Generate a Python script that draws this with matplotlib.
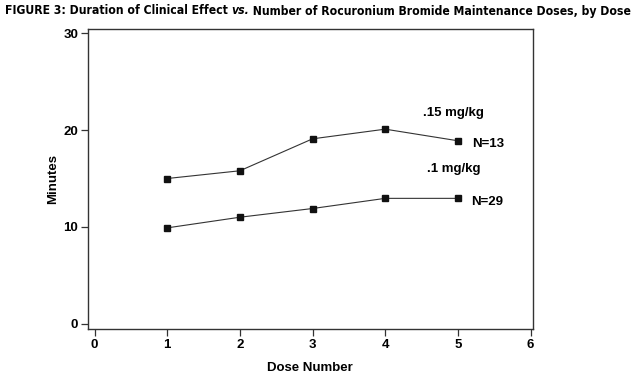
import matplotlib
matplotlib.use("Agg")
import matplotlib.pyplot as plt

dose_number = [1, 2, 3, 4, 5]
high_dose = [15.0, 15.8, 19.1, 20.1, 18.9]   # .15 mg/kg
low_dose = [9.9, 11.0, 11.9, 12.95, 12.95]   # .1 mg/kg
x_ticks = [0, 1, 2, 3, 4, 5, 6]
y_ticks = [0, 10, 20, 30]

plt.rcParams['font.family'] = ['Liberation Sans', 'DejaVu Sans']

fig = plt.figure(figsize=(6.39, 3.80), dpi=100)
ax = fig.add_axes([0.1377, 0.1342, 0.696, 0.7895])

ax.plot(dose_number, high_dose, color='#333333', lw=0.8, marker='s', ms=5,
        mfc='#111111', mec='#111111')
ax.plot(dose_number, low_dose, color='#333333', lw=0.8, marker='s', ms=5,
        mfc='#111111', mec='#111111')

ax.set_xlim(-0.09, 6.03)
ax.set_ylim(-0.55, 30.45)
ax.set_xticks(x_ticks)
ax.set_yticks(y_ticks)
ax.tick_params(direction='out', length=5, width=0.9, color='#333333',
               labelsize=9.5, pad=2)
for lab in ax.get_xticklabels() + ax.get_yticklabels():
    lab.set_fontweight('bold')
for sp in ax.spines.values():
    sp.set_color('#333333')
    sp.set_linewidth(1.0)

ax.set_xlabel('Dose Number', fontsize=9.5, fontweight='bold', labelpad=8)
ax.set_ylabel('Minutes', fontsize=9.5, fontweight='bold', labelpad=3)

lbl = dict(fontsize=9.5, fontweight='bold', va='center', ha='left')
ax.text(4.52, 21.8, '.15 mg/kg', **lbl)
ax.text(5.19, 18.6, 'N=13', **lbl)
ax.text(4.58, 16.0, '.1 mg/kg', **lbl)
ax.text(5.18, 12.6, 'N=29', **lbl)

# title in pieces so that "vs." can be italic, squeezed to the width of the picture
parts = [('FIGURE 3: Duration of Clinical Effect ', 'normal'),
         ('vs.', 'italic'),
         (' Number of Rocuronium Bromide Maintenance Doses, by Dose', 'normal')]
renderer = fig.canvas.get_renderer()


def draw_title(size):
    x0 = 5 / 639
    texts = []
    for txt, style in parts:
        t = fig.text(x0, 1 - 11 / 380, txt, fontsize=size, fontweight='bold',
                     style=style, stretch='condensed', family='DejaVu Sans',
                     va='center', ha='left')
        bb = t.get_window_extent(renderer=renderer)
        x0 += bb.width / fig.bbox.width
        texts.append(t)
    return texts, x0 * fig.bbox.width - 5


size = 11
texts, width = draw_title(size)
if width > 629:
    for t in texts:
        t.remove()
    texts, width = draw_title(size * 629 / width)

fig.savefig('out.png', dpi=100)
